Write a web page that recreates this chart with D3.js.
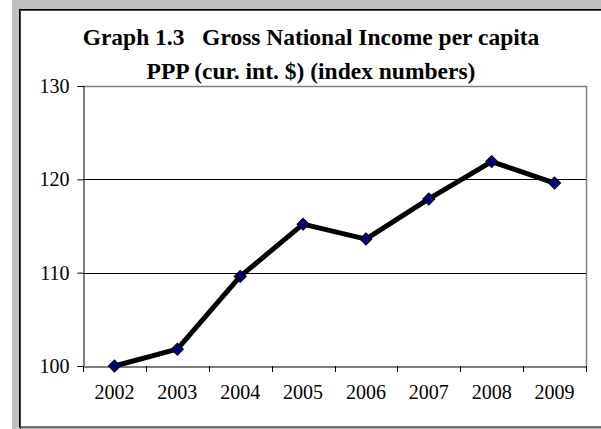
<!DOCTYPE html>
<html>
<head>
<meta charset="utf-8">
<script src="https://cdn.jsdelivr.net/npm/d3@7"></script>
<style>
  html, body { margin: 0; padding: 0; background: #fff; }
  svg { display: block; }
  text { font-family: "Liberation Serif", "Times New Roman", serif; fill: #000; }
</style>
</head>
<body>
<svg id="chart" width="601" height="429"></svg>
<script>
// Gross National Income per capita, PPP, index numbers (2002 = 100)
const years = ["2002", "2003", "2004", "2005", "2006", "2007", "2008", "2009"];
const indexValues = [100, 101.8, 109.6, 115.2, 113.6, 117.9, 121.9, 119.6];
const yTicks = [100, 110, 120, 130];
const titleLines = [
  "Graph 1.3\u00a0\u00a0\u00a0Gross National Income per capita",
  "PPP (cur. int. $) (index numbers)"
];

const svg = d3.select("#chart");
const W = 601, H = 429;

// outer frame: grey surround with a dark-edged white panel
svg.append("rect").attr("x", 12).attr("y", 0).attr("width", W - 12).attr("height", H).attr("fill", "#c0c0c0");
svg.append("rect").attr("x", 19.5).attr("y", 9.5).attr("width", W).attr("height", 417.5)
  .attr("fill", "#fff").attr("stroke", "#000").attr("stroke-width", 1);
svg.append("path").attr("d", `M20.5,${H} V10.5 H${W}`).attr("fill", "none").attr("stroke", "#404040").attr("stroke-width", 1);

const plot = { left: 83, right: 586, top: 86, bottom: 366 };

const x = d3.scaleBand().domain(years).range([plot.left, plot.right]).padding(0);
const y = d3.scaleLinear().domain([100, 130]).range([plot.bottom, plot.top]);

// title
svg.append("g").selectAll("text").data(titleLines).join("text")
  .attr("x", 311).attr("y", (d, i) => 45 + i * 34)
  .attr("text-anchor", "middle")
  .attr("font-weight", "bold")
  .attr("font-size", 23.5)
  .text(d => d);

// plot area frame (top and right edges)
svg.append("path")
  .attr("d", `M${plot.left},${plot.top + 0.5} H${plot.right + 0.5} V${plot.bottom}`)
  .attr("fill", "none").attr("stroke", "#808080").attr("stroke-width", 1.5);

// horizontal gridlines
svg.append("g").selectAll("line").data(yTicks.filter(v => v > 100 && v < 130)).join("line")
  .attr("x1", plot.left).attr("x2", plot.right)
  .attr("y1", d => Math.round(y(d)) + 0.5).attr("y2", d => Math.round(y(d)) + 0.5)
  .attr("stroke", "#000").attr("stroke-width", 1);

// y axis
const yAxis = svg.append("g")
  .attr("transform", `translate(${plot.left + 0.5},0)`)
  .call(d3.axisLeft(y).tickValues(yTicks).tickSize(6).tickPadding(8).tickFormat(d3.format("d")));
yAxis.select(".domain").attr("stroke", "#000");
yAxis.selectAll(".tick line").attr("stroke", "#000");
yAxis.selectAll("text").attr("font-size", 20).attr("font-family", "Liberation Serif, serif");

// x axis: labels centred in each category, ticks on category boundaries
const xAxis = svg.append("g")
  .attr("transform", `translate(0,${plot.bottom + 0.5})`)
  .call(d3.axisBottom(x).tickSize(0).tickPadding(18).tickSizeOuter(0));
xAxis.select(".domain").attr("stroke", "#000");
xAxis.selectAll("text").attr("font-size", 20).attr("font-family", "Liberation Serif, serif");
const boundaries = years.map(d => x(d)).concat([x(years[years.length - 1]) + x.bandwidth()]);
svg.append("g").selectAll("line").data(boundaries).join("line")
  .attr("x1", d => Math.round(d) + 0.5).attr("x2", d => Math.round(d) + 0.5)
  .attr("y1", plot.bottom).attr("y2", plot.bottom + 6)
  .attr("stroke", "#000").attr("stroke-width", 1);

// series line
const pts = years.map((d, i) => [x(d) + x.bandwidth() / 2, y(indexValues[i])]);
svg.append("path")
  .attr("d", d3.line()(pts))
  .attr("fill", "none").attr("stroke", "#000").attr("stroke-width", 5)
  .attr("stroke-linejoin", "round");

// diamond markers
svg.append("g").selectAll("path").data(pts).join("path")
  .attr("transform", d => `translate(${d[0]},${d[1]}) rotate(45)`)
  .attr("d", d3.symbol(d3.symbolSquare, 72)())
  .attr("fill", "#000080").attr("stroke", "#000").attr("stroke-width", 1);
</script>
</body>
</html>
